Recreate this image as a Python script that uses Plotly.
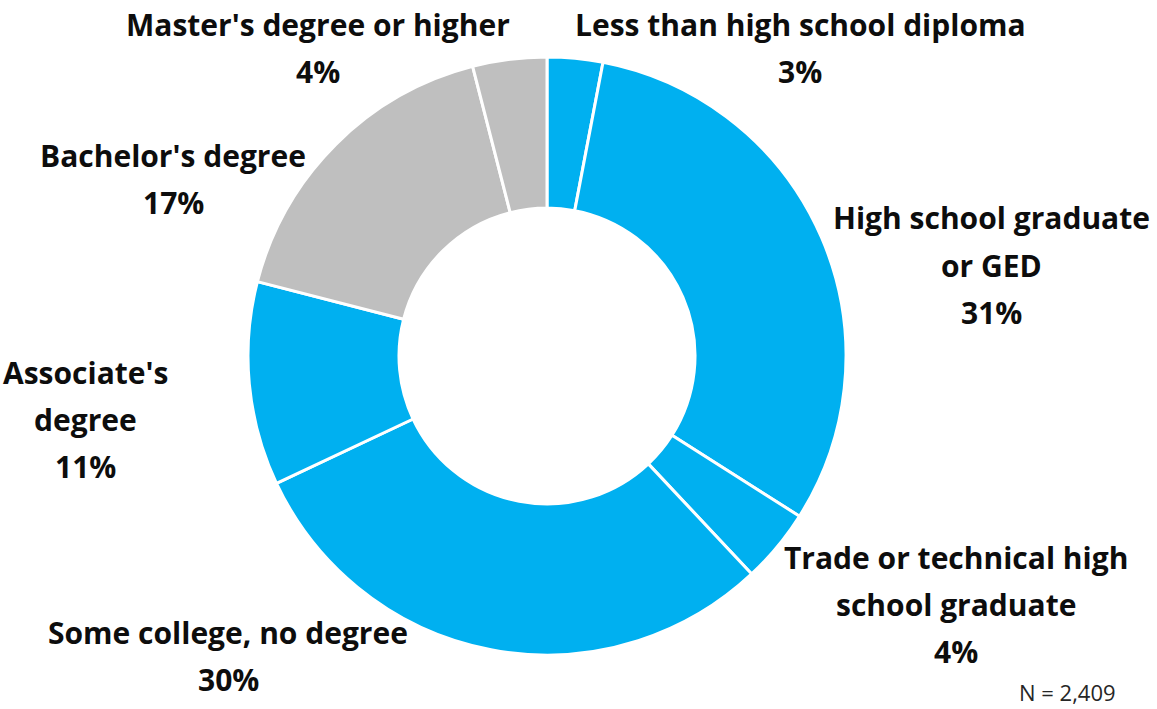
import plotly.graph_objects as go

# Educational attainment shares (percent)
labels = [
    "Less than high school diploma",
    "High school graduate<br>or GED",
    "Trade or technical high<br>school graduate",
    "Some college, no degree",
    "Associate's<br>degree",
    "Bachelor's degree",
    "Master's degree or higher",
]
values = [3, 31, 4, 30, 11, 17, 4]
colors = ["#00B0F0", "#00B0F0", "#00B0F0", "#00B0F0", "#00B0F0", "#BFBFBF", "#BFBFBF"]

# Centre of the first text line for each outside label (pixels from top-left)
label_px = [(800, 25), (991, 218), (956, 557), (228, 632), (85, 372), (173, 155), (318, 25)]

W, H = 1157, 709
cx, cy, r = 547, 356, 299
line_gap = 47

fig = go.Figure(go.Pie(
    labels=[l.replace("<br>", " ") for l in labels],
    values=values,
    sort=False,
    direction="clockwise",
    rotation=0,
    hole=0.495,
    textinfo="none",
    hoverinfo="label+percent",
    marker=dict(colors=colors, line=dict(color="white", width=3)),
    domain=dict(x=[(cx - r) / W, (cx + r) / W], y=[(H - cy - r) / H, (H - cy + r) / H]),
    showlegend=False,
))

annotations = []
font = dict(family="Open Sans", size=30, color="#0D0D0D")
for lab, val, (px, py) in zip(labels, values, label_px):
    lines = lab.split("<br>") + [f"{val}%"]
    for i, line in enumerate(lines):
        annotations.append(dict(
            x=px / W, y=1 - (py + i * line_gap) / H, xref="paper", yref="paper",
            text=f"<b>{line}</b>", showarrow=False, font=font,
            xanchor="center", yanchor="middle",
        ))

annotations.append(dict(
    x=1067 / W, y=1 - 692 / H, xref="paper", yref="paper",
    text="N = 2,409", showarrow=False,
    font=dict(family="Open Sans", size=22, color="#262626"),
    xanchor="center", yanchor="middle",
))

fig.update_layout(
    width=W, height=H,
    margin=dict(l=0, r=0, t=0, b=0),
    paper_bgcolor="white", plot_bgcolor="white",
    annotations=annotations,
)

fig.write_html("out.html")
